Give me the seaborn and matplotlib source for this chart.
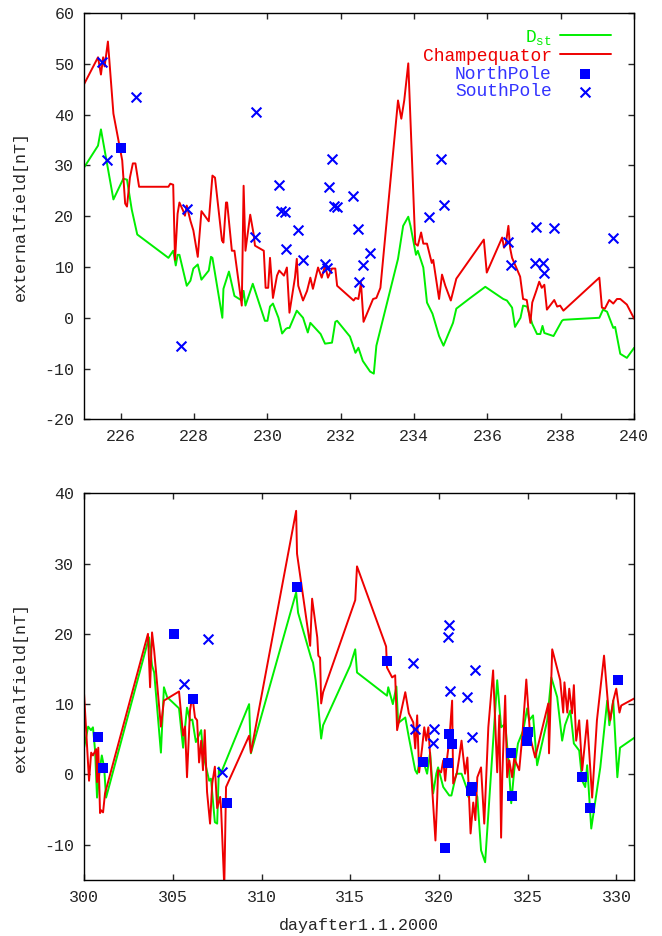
import matplotlib
matplotlib.use("Agg")
import numpy as np
import pandas as pd
import matplotlib.pyplot as plt
import seaborn as sns

# ---- top panel (days 225-240) ----
top_dst_day = [225.0, 225.38, 225.46, 225.8, 226.07, 226.17, 226.3, 226.45, 227.3, 227.43,
               227.5, 227.55, 227.6, 227.8, 227.9, 227.98, 228.1, 228.2, 228.4, 228.46,
               228.5, 228.77, 228.8, 228.95, 229.1, 229.3, 229.35, 229.4, 229.6, 229.93,
               230.0, 230.07, 230.15, 230.3, 230.4, 230.5, 230.55, 230.6, 230.8, 230.97,
               231.1, 231.17, 231.45, 231.57, 231.76, 231.85, 231.9, 232.25, 232.4, 232.48,
               232.6, 232.8, 232.9, 232.97, 233.56, 233.7, 233.84, 233.9, 234.05, 234.1,
               234.25, 234.35, 234.5, 234.68, 234.8, 235.06, 235.15, 235.53, 235.94, 236.43,
               236.53, 236.67, 236.75, 236.9, 236.97, 237.08, 237.22, 237.35, 237.44, 237.5,
               237.55, 237.8, 238.03, 238.07, 239.05, 239.15, 239.26, 239.43, 239.48, 239.62,
               239.8, 240.0]
top_dst_val = [29.6, 33.9, 37.1, 23.3, 27.4, 27.2, 21.3, 16.4, 11.8, 13.2,
               10.3, 12.4, 12.4, 6.3, 7.3, 9.7, 10.5, 7.5, 9.3, 12.0,
               11.8, 0.0, 5.7, 9.1, 4.3, 3.4, 5.3, 2.4, 6.7, -0.6,
               -0.6, 2.2, 2.8, 0.0, -3.1, -2.2, -2.0, -2.0, 1.4, 0.0,
               -2.9, -1.0, -3.2, -5.1, -4.9, -0.8, -0.6, -3.7, -6.9, -5.9,
               -8.5, -10.6, -11.0, -5.5, 11.6, 18.1, 19.9, 18.1, 12.4, 13.2,
               9.9, 3.0, 0.8, -3.6, -5.5, -1.0, 1.8, 3.9, 6.1, 3.7,
               3.4, 2.0, -1.8, 0.0, 2.4, 2.2, -1.2, -3.2, -3.2, -1.6,
               -3.0, -3.6, -0.6, -0.4, 0.0, 1.6, 1.2, -2.0, -1.8, -7.1,
               -7.9, -5.9]

top_champ_day = [225.0, 225.38, 225.46, 225.52, 225.56, 225.65, 225.8, 226.04, 226.12, 226.17,
                 226.25, 226.33, 226.4, 226.5, 227.3, 227.35, 227.43, 227.48, 227.55, 227.6,
                 227.7, 227.75, 227.8, 227.9, 227.98, 228.1, 228.2, 228.4, 228.5, 228.57,
                 228.76, 228.8, 228.87, 228.9, 229.03, 229.1, 229.3, 229.35, 229.4, 229.53,
                 229.62, 229.66, 229.9, 229.95, 230.02, 230.07, 230.15, 230.26, 230.32, 230.45,
                 230.53, 230.6, 230.75, 230.8, 230.84, 230.97, 231.08, 231.17, 231.24, 231.38,
                 231.48, 231.57, 231.65, 231.76, 231.85, 231.9, 232.35, 232.4, 232.48, 232.55,
                 232.62, 232.88, 232.97, 233.08, 233.56, 233.65, 233.73, 233.84, 234.03, 234.1,
                 234.19, 234.25, 234.35, 234.48, 234.52, 234.68, 234.76, 234.85, 235.0, 235.15,
                 235.53, 235.9, 235.98, 236.4, 236.45, 236.5, 236.57, 236.62, 236.67, 236.89,
                 236.97, 237.07, 237.1, 237.17, 237.22, 237.33, 237.41, 237.48, 237.55, 237.62,
                 237.82, 237.9, 237.98, 238.07, 239.05, 239.12, 239.2, 239.32, 239.43, 239.53,
                 239.62, 239.8, 240.0]
top_champ_val = [46.0, 51.3, 47.9, 51.3, 49.5, 54.4, 40.2, 31.0, 22.5, 21.9,
                 27.6, 30.4, 30.4, 25.8, 25.8, 26.4, 26.2, 11.4, 20.5, 22.7,
                 21.1, 20.1, 22.1, 19.1, 17.2, 12.0, 21.0, 19.0, 28.0, 27.6,
                 15.2, 14.8, 22.7, 22.7, 13.2, 13.2, 2.4, 26.0, 13.2, 20.3,
                 16.6, 14.2, 13.2, 5.9, 5.9, 11.8, 3.9, 8.3, 9.3, 8.3,
                 9.9, 1.0, 7.9, 11.6, 6.3, 3.4, 5.3, 7.9, 5.7, 9.9,
                 7.9, 10.3, 7.9, 9.7, 9.7, 6.3, 3.4, 3.9, 3.7, 6.9,
                 -0.8, 3.7, 3.9, 5.9, 42.8, 39.2, 42.8, 50.1, 14.6, 14.2,
                 16.8, 14.6, 14.6, 10.8, 11.4, 3.7, 8.5, 6.3, 3.4, 7.7,
                 11.6, 15.4, 8.9, 15.8, 13.8, 14.6, 18.1, 13.6, 11.8, 8.1,
                 3.7, 3.5, 2.2, -1.0, 3.0, 5.3, 7.1, 5.9, 6.5, 1.6,
                 3.5, 2.2, 2.4, 1.4, 7.9, 2.0, 1.8, 3.5, 2.8, 3.7,
                 3.7, 2.6, -0.2]

top_north_day = [226.0]
top_north_val = [33.5]

top_south_day = [225.5, 225.63, 226.42, 227.65, 227.8, 229.66, 229.69, 230.32, 230.37, 230.48,
                 230.5, 230.84, 230.97, 231.57, 231.63, 231.68, 231.76, 231.82, 231.9, 232.33,
                 232.48, 232.5, 232.6, 232.8, 234.4, 234.73, 234.82, 236.56, 236.64, 237.33,
                 237.3, 237.5, 237.55, 237.8, 239.43]
top_south_val = [50.3, 31.0, 43.4, -5.5, 21.5, 16.0, 40.6, 26.2, 21.1, 20.9,
                 13.6, 17.2, 11.4, 10.5, 9.9, 25.8, 31.2, 22.1, 21.9, 23.9,
                 17.4, 7.1, 10.3, 12.8, 19.9, 31.2, 22.3, 15.0, 10.3, 17.8,
                 10.7, 10.7, 8.9, 17.6, 15.8]

# ---- bottom panel (days 300-331) ----
bot_dst_day = [300.0, 300.23, 300.39, 300.5, 300.62, 300.73, 300.9, 301.0, 301.13, 301.24,
               303.66, 303.83, 303.95, 304.33, 304.5, 304.68, 305.35, 305.58, 305.8, 305.97,
               306.1, 306.3, 306.6, 306.7, 307.05, 307.15, 307.37, 307.5, 307.6, 307.7,
               309.3, 309.4, 311.95, 312.06, 312.8, 312.9, 313.05, 313.15, 313.36, 313.47,
               315.0, 315.28, 315.38, 317.07, 317.14, 317.4, 317.6, 317.7, 318.1, 318.3,
               318.66, 318.77, 318.94, 319.1, 319.33, 319.5, 319.67, 319.85, 319.95, 320.24,
               320.58, 320.7, 320.98, 321.27, 321.57, 321.65, 321.85, 322.16, 322.37, 322.6,
               323.28, 323.5, 323.73, 323.9, 324.07, 324.24, 324.45, 324.75, 324.97, 325.08,
               325.3, 325.53, 326.1, 326.33, 326.66, 326.94, 327.1, 327.4, 327.6, 327.9,
               328.07, 328.24, 328.35, 328.58, 329.09, 329.48, 329.6, 329.82, 330.05, 330.2,
               331.0]
bot_dst_val = [3.8, 6.8, 6.3, 6.7, 3.4, -3.3, 1.0, 2.7, 1.0, -3.3,
               19.5, 15.5, 14.5, 3.1, 12.4, 11.0, 9.4, 3.8, 9.5, 7.7,
               7.8, 4.6, 6.3, 3.0, -0.9, -0.6, -6.8, -7.0, 1.0, 0.1,
               10.0, 3.0, 25.9, 23.0, 16.5, 15.9, 13.4, 11.0, 5.1, 7.0,
               15.5, 17.8, 14.5, 11.2, 12.4, 10.0, 12.5, 7.3, 8.1, 5.3,
               0.6, 0.1, 2.3, 2.0, 0.1, 3.1, -2.7, 0.1, 1.0, -1.8,
               -3.0, -3.0, 0.1, 0.1, -2.0, -3.2, -1.3, -3.2, -10.8, -12.5,
               13.4, 6.7, 7.2, 2.4, -4.1, 0.6, 4.4, 6.3, 9.4, 7.7,
               8.4, 1.3, 7.7, 13.8, 11.0, 4.8, 7.0, 9.1, 4.4, 3.4,
               -0.9, -1.8, 1.3, -7.7, 1.0, 10.5, 7.0, 10.5, -0.4, 3.8,
               5.2]

bot_champ_day = [300.0, 300.28, 300.4, 300.5, 300.68, 300.73, 300.8, 300.9, 300.96, 301.07,
                 301.18, 303.6, 303.72, 303.83, 303.95, 304.33, 304.5, 305.35, 305.58, 305.69,
                 305.8, 305.97, 306.1, 306.25, 306.37, 306.48, 306.6, 306.7, 306.8, 306.93,
                 307.1, 307.22, 307.37, 307.5, 307.67, 307.72, 307.9, 308.0, 309.3, 309.4,
                 311.95, 312.0, 312.74, 312.85, 313.14, 313.2, 313.3, 313.36, 313.47, 315.28,
                 315.38, 317.02, 317.07, 317.36, 317.53, 317.64, 318.1, 318.3, 318.55, 318.66,
                 318.77, 318.88, 319.05, 319.17, 319.28, 319.4, 319.55, 319.8, 319.9, 319.95,
                 320.12, 320.24, 320.35, 320.46, 320.58, 320.74, 320.8, 321.0, 321.14, 321.27,
                 321.47, 321.6, 321.78, 321.93, 322.05, 322.16, 322.37, 322.55, 322.78, 323.05,
                 323.28, 323.4, 323.5, 323.57, 323.73, 323.84, 323.96, 324.12, 324.24, 324.52,
                 324.69, 324.92, 325.14, 325.42, 326.16, 326.2, 326.38, 326.83, 327.0, 327.07,
                 327.23, 327.34, 327.5, 327.6, 327.73, 327.9, 328.07, 328.18, 328.35, 328.63,
                 328.9, 329.3, 329.54, 329.65, 329.82, 329.99, 330.17, 330.27, 330.78, 331.0]
bot_champ_val = [11.4, -0.9, 3.1, 2.7, 3.6, -1.1, 3.8, -5.5, -5.1, -5.4,
                 -2.7, 20.0, 12.4, 20.2, 17.6, 6.8, 10.5, 11.8, 5.5, 6.8,
                 -0.4, 9.1, 11.2, 8.1, 7.7, 1.7, 4.8, 0.6, 6.3, -2.5,
                 -7.0, -1.3, 1.1, -4.8, -3.2, -4.8, -16.0, -1.8, 5.5, 3.1,
                 37.5, 31.4, 18.3, 25.0, 19.5, 16.9, 16.6, 10.1, 11.7, 24.8,
                 29.6, 18.2, 15.2, 13.8, 14.1, 6.3, 11.7, 8.7, 7.4, 3.7,
                 8.4, 0.3, 3.8, 6.7, 4.8, 6.7, 0.6, -9.4, -3.3, 0.6,
                 0.3, 2.0, -0.9, 2.4, 4.8, 10.5, -1.3, 0.1, 2.4, 4.8,
                 0.1, 2.4, -8.4, -4.0, -6.5, -0.4, 1.0, -7.0, 6.7, 14.8,
                 0.3, 8.4, -9.0, 0.1, 11.2, -0.4, 2.0, -0.4, 2.3, 0.6,
                 5.3, 13.5, 5.3, 2.4, 10.1, 3.0, 17.8, 13.4, 8.8, 13.1,
                 8.8, 12.2, 8.7, 12.7, 4.8, 7.7, 0.6, 3.4, 7.7, -3.3,
                 7.7, 16.9, 9.5, 7.7, 10.5, 12.2, 8.8, 9.8, 10.5, 10.8]

bot_north_day = [300.8, 301.07, 305.07, 306.15, 308.06, 312.0, 317.08, 319.1, 320.58, 320.75,
                 320.5, 321.85, 321.8, 320.35, 324.07, 324.12, 325.03, 324.97, 328.07, 328.52,
                 330.1]
bot_north_val = [5.3, 0.9, 20.0, 10.8, -4.1, 26.6, 16.2, 1.7, 5.7, 4.3,
                 1.6, -1.8, -2.4, -10.5, 3.1, -3.1, 6.0, 4.8, -0.3, -4.8,
                 13.4]

bot_south_day = [305.64, 306.99, 307.78, 318.55, 320.58, 320.52, 322.05, 320.63, 321.6, 318.66,
                 319.73, 319.67, 321.87]
bot_south_val = [12.8, 19.2, 0.3, 15.8, 21.3, 19.5, 14.9, 11.8, 11.0, 6.4,
                 6.4, 4.4, 5.3]

GREEN = "#00ee00"
RED = "#ee0000"
BLUE = "#0000ff"

sns.set_style("ticks")
plt.rcParams["font.family"] = ["Liberation Mono", "DejaVu Sans Mono"]
plt.rcParams["axes.unicode_minus"] = False
plt.rcParams["xtick.direction"] = "in"
plt.rcParams["ytick.direction"] = "in"
plt.rcParams["xtick.top"] = True
plt.rcParams["ytick.right"] = True
plt.rcParams["xtick.major.size"] = 4.5
plt.rcParams["ytick.major.size"] = 4.5
plt.rcParams["axes.linewidth"] = 1.0
plt.rcParams["axes.edgecolor"] = "black"

fig = plt.figure(figsize=(6.62, 9.36), dpi=100)
ax1 = fig.add_axes([0.127, 0.552, 0.831, 0.434])
ax2 = fig.add_axes([0.127, 0.060, 0.831, 0.413])


def draw_panel(ax, dst_d, dst_v, ch_d, ch_v, n_d, n_v, s_d, s_v):
    sns.lineplot(x=dst_d, y=dst_v, ax=ax, color=GREEN, lw=1.4, sort=False,
                 estimator=None, label="D$_{\\mathregular{st}}$")
    sns.lineplot(x=ch_d, y=ch_v, ax=ax, color=RED, lw=1.4, sort=False,
                 estimator=None, label="Champequator")
    sns.scatterplot(x=n_d, y=n_v, ax=ax, color=BLUE, marker="s", s=44,
                    linewidth=0, label="NorthPole", zorder=5)
    sns.scatterplot(x=s_d, y=s_v, ax=ax, color=BLUE, marker="x", s=50,
                    linewidth=1.5, label="SouthPole", zorder=5)
    ax.set_ylabel("externalfield[nT]", fontsize=12, labelpad=12)
    ax.tick_params(labelsize=12, width=1.0, pad=7)


draw_panel(ax1, top_dst_day, top_dst_val, top_champ_day, top_champ_val,
           top_north_day, top_north_val, top_south_day, top_south_val)
draw_panel(ax2, bot_dst_day, bot_dst_val, bot_champ_day, bot_champ_val,
           bot_north_day, bot_north_val, bot_south_day, bot_south_val)

ax1.set_xlim(225, 240)
ax1.set_ylim(-20, 60)
ax1.set_xticks(np.arange(226, 241, 2))
ax1.set_yticks(np.arange(-20, 61, 10))
ax1.set_xlabel("")

leg = ax1.legend(loc="upper right", bbox_to_anchor=(0.98, 0.995), frameon=False,
                 markerfirst=False, fontsize=13, handlelength=2.8,
                 handletextpad=0.45, labelspacing=0.05, borderpad=0.2)
for txt, c in zip(leg.get_texts(), [GREEN, RED, "#3333ff", "#3333ff"]):
    txt.set_color(c)
    txt.set_ha("right")
leg._legend_box.align = "right"

ax2.set_xlim(300, 331)
ax2.set_ylim(-15, 40)
ax2.set_xticks(np.arange(300, 331, 5))
ax2.set_yticks(np.arange(-10, 41, 10))
ax2.set_xlabel("dayafter1.1.2000", fontsize=12, labelpad=10)
ax2.get_legend().remove()

for ax in (ax1, ax2):
    for sp in ax.spines.values():
        sp.set_visible(True)
        sp.set_color("black")

fig.savefig("out.png", dpi=100)
